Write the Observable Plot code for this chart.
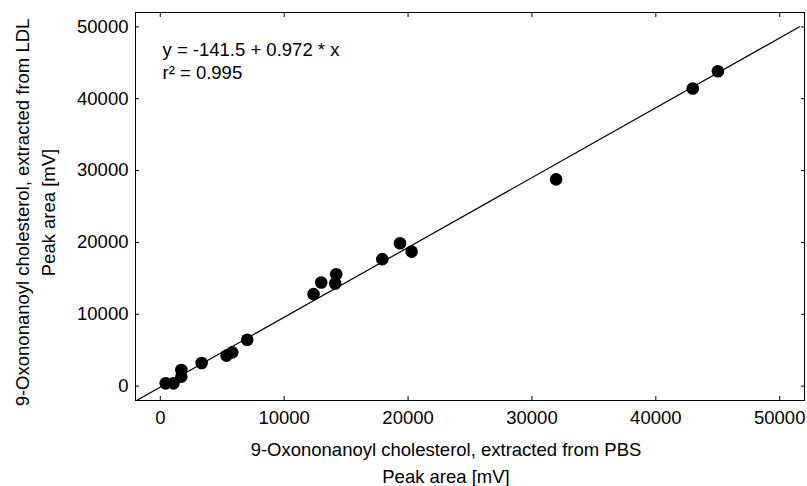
<!DOCTYPE html>
<html>
<head>
<meta charset="utf-8">
<script src="https://cdn.jsdelivr.net/npm/d3@7"></script>
<script src="https://cdn.jsdelivr.net/npm/@observablehq/plot@0.6"></script>
<style>
  html, body { margin: 0; padding: 0; background: #fff; }
  #chart svg { display: block; }
</style>
</head>
<body>
<div id="chart"></div>
<script>
// Measured points (PBS vs LDL peak areas, mV)
const pbs = [440, 1060, 1700, 1700, 3340, 5350, 5810, 7020, 12370, 12990, 14120, 14200, 17920, 19350, 20290, 31950, 42980, 45010];
const ldl = [390, 390, 1320, 2250, 3220, 4240, 4700, 6460, 12800, 14420, 14280, 15580, 17670, 19890, 18720, 28780, 41420, 43820];

// Regression coefficients and line extent
const intercept = -141.5;
const slope = 0.972;
const lineX = [-2000, 51600];

const xTicks = [0, 10000, 20000, 30000, 40000, 50000];
const yTicks = [0, 10000, 20000, 30000, 40000, 50000];
const domain = [-2000, 52000];

const equationText = "y = -141.5 + 0.972 * x";
const r2Text = "r² = 0.995";
const xTitle = ["9-Oxononanoyl cholesterol, extracted from PBS", "Peak area [mV]"];
const yTitle = ["9-Oxononanoyl cholesterol, extracted from LDL", "Peak area [mV]"];

const points = pbs.map((x, i) => ({x, y: ldl[i]}));
const fit = lineX.map(x => ({x, y: intercept + slope * x}));

const font = "Liberation Sans, Arial, Helvetica, sans-serif";
const fs = 18.5;

const chart = Plot.plot({
  width: 807,
  height: 486,
  marginLeft: 135,
  marginRight: 3,
  marginTop: 12,
  marginBottom: 86,
  style: {fontFamily: font, fontSize: fs + "px", color: "#000", background: "#fff"},
  x: {domain, ticks: xTicks},
  y: {domain, ticks: yTicks},
  marks: [
    Plot.frame({stroke: "#000", strokeWidth: 1}),
    Plot.axisX({ticks: xTicks, tickSize: -4, tickPadding: 14, label: null, fontSize: fs, tickFormat: d => String(d)}),
    Plot.axisX({anchor: "top", ticks: xTicks, tickSize: -4, tickFormat: () => "", label: null}),
    Plot.axisY({ticks: yTicks, tickSize: -4, tickPadding: 11, label: null, fontSize: fs, tickFormat: d => String(d)}),
    Plot.axisY({anchor: "right", ticks: yTicks, tickSize: -4, tickFormat: () => "", label: null}),
    Plot.line(fit, {x: "x", y: "y", stroke: "#000", strokeWidth: 1.2, clip: true}),
    Plot.dot(points, {x: "x", y: "y", r: 6.3, fill: "#000", stroke: "none"}),
    Plot.text([equationText], {frameAnchor: "top-left", dx: 27, dy: 38, fontSize: fs, textAnchor: "start", lineAnchor: "middle"}),
    Plot.text([r2Text], {frameAnchor: "top-left", dx: 27, dy: 61, fontSize: fs, textAnchor: "start", lineAnchor: "middle"}),
    Plot.text([xTitle[0]], {frameAnchor: "bottom", dx: -24, dy: 50, fontSize: fs, textAnchor: "middle", lineAnchor: "middle"}),
    Plot.text([xTitle[1]], {frameAnchor: "bottom", dx: -24, dy: 77, fontSize: fs, textAnchor: "middle", lineAnchor: "middle"}),
    Plot.text([yTitle[0]], {frameAnchor: "left", dx: -112, dy: 6, rotate: -90, fontSize: fs, textAnchor: "middle", lineAnchor: "middle"}),
    Plot.text([yTitle[1]], {frameAnchor: "left", dx: -86, dy: 6, rotate: -90, fontSize: fs, textAnchor: "middle", lineAnchor: "middle"})
  ]
});
document.getElementById("chart").appendChild(chart);
</script>
</body>
</html>
